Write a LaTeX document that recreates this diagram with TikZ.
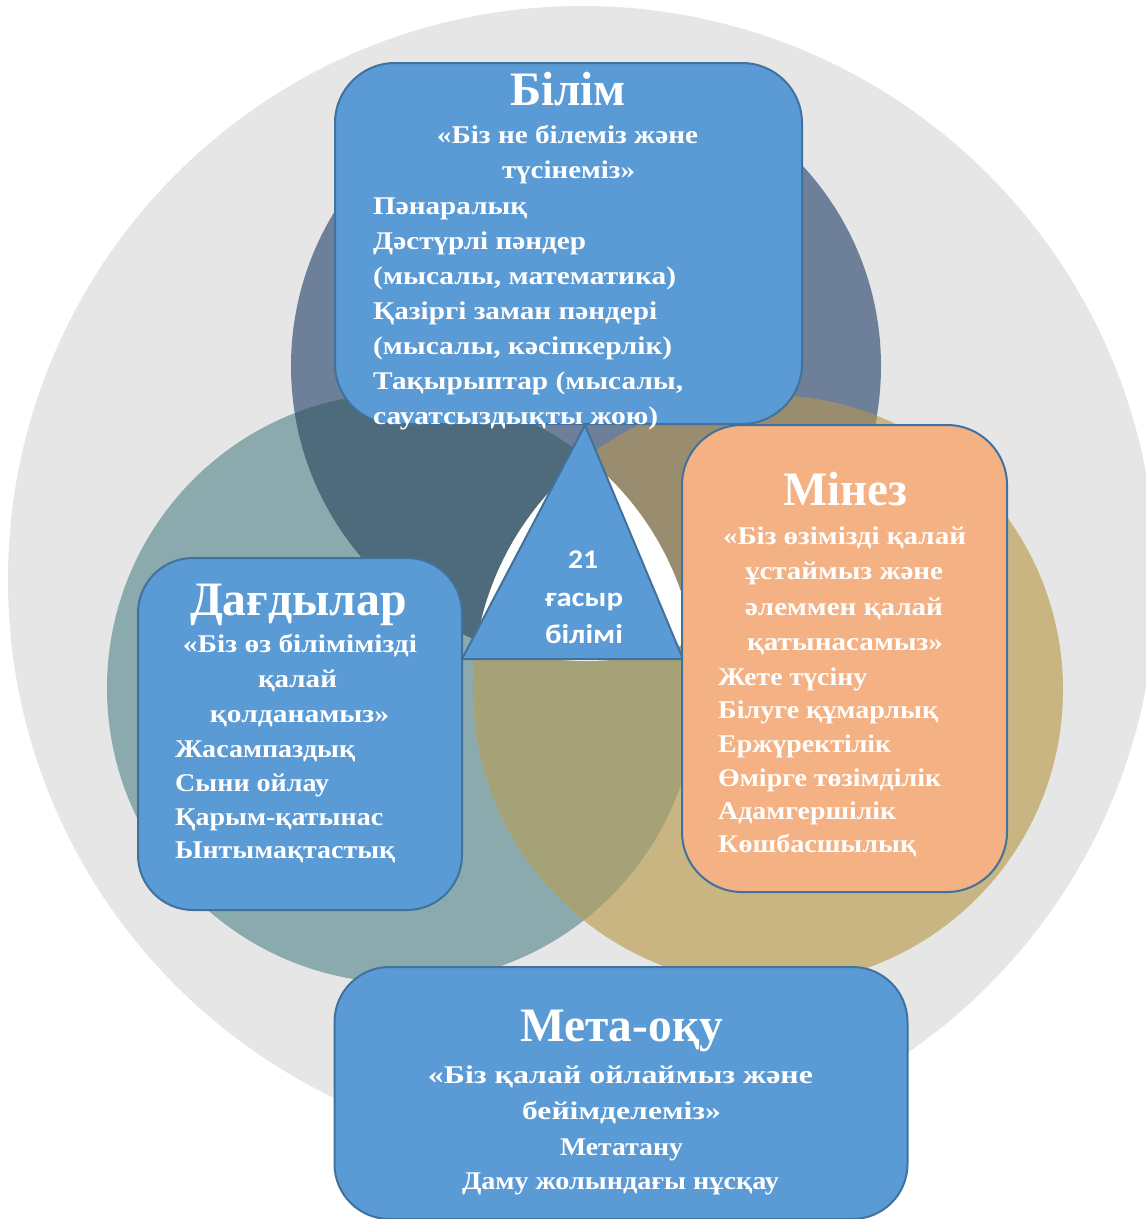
\documentclass[tikz,border=0pt]{standalone}
\usepackage{fontspec}
\setmainfont{Liberation Serif}
\newfontfamily\trisans{Carlito}
\definecolor{graybg}{HTML}{E6E6E6}
\definecolor{cdark}{HTML}{6E7F99}
\definecolor{cteal}{HTML}{8AAAAD}
\definecolor{cgold}{HTML}{C8B582}
\definecolor{cdt}{HTML}{4E6B7C}
\definecolor{cdg}{HTML}{9A8D6F}
\definecolor{ctg}{HTML}{A5A277}
\definecolor{boxblue}{HTML}{5B9BD5}
\definecolor{boxline}{HTML}{41719C}
\definecolor{salmon}{HTML}{F4B183}
\newcommand\fw[2]{\resizebox{#1pt}{\height}{#2}}
\begin{document}
\begin{tikzpicture}[x=1pt,y=-1pt,
  panel/.style={draw=boxline, line width=2pt, fill=boxblue, inner sep=0pt},
  ttl/.style={text=white, font=\bfseries\fontsize{48}{52}\selectfont, inner sep=0pt, anchor=base},
  ctr/.style={text=white, font=\bfseries\fontsize{25.5}{30}\selectfont, inner sep=0pt, anchor=base},
  lft/.style={text=white, font=\bfseries\fontsize{25.5}{30}\selectfont, inner sep=0pt, anchor=base west},
  tri/.style={text=white, font=\trisans\bfseries\fontsize{27}{30}\selectfont, inner sep=0pt, anchor=base}]
\useasboundingbox (0,0) rectangle (1146,1219);
\fill[white] (0,0) rectangle (1146,1219);
% big grey disc
\fill[graybg] (582,580) circle[radius=574];
% three circles
\fill[cteal] (402,688) circle[radius=295];
\fill[cgold] (768,690) circle[radius=295];
\fill[cdark] (586,366) circle[radius=295];
\begin{scope}
  \clip (586,366) circle[radius=295];
  \fill[cdt] (402,688) circle[radius=295];
  \fill[cdg] (768,690) circle[radius=295];
\end{scope}
\begin{scope}
  \clip (402,688) circle[radius=295];
  \fill[ctg] (768,690) circle[radius=295];
  \clip (768,690) circle[radius=295];
  \fill[white] (586,366) circle[radius=295];
\end{scope}
% Bilim box
\node[panel, minimum width=467pt, minimum height=361pt, rounded corners=60pt] (bilim) at (568.5,243.5) {};
\node[ttl] (b0) at (568,105) {\fw{116}{Білім}};
\node[ctr] (b1) at (567.5,143) {\fw{261}{«Біз не білеміз және}};
\node[ctr] (b2) at (568.5,178) {\fw{133}{түсінеміз»}};
\node[lft] (b3) at (373,214) {\fw{154}{Пәнаралық}};
\node[lft] (b4) at (373,249) {\fw{213}{Дәстүрлі пәндер}};
\node[lft] (b5) at (373,284) {\fw{303}{(мысалы, математика)}};
\node[lft] (b6) at (373,319) {\fw{284}{Қазіргі заман пәндері}};
\node[lft] (b7) at (373,354) {\fw{299}{(мысалы, кәсіпкерлік)}};
\node[lft] (b8) at (373,389) {\fw{310}{Тақырыптар (мысалы,}};
\node[lft] (b9) at (373,424) {\fw{285}{сауатсыздықты жою)}};
% triangle
\coordinate (ta) at (585,425);
\coordinate (tl) at (462,659);
\coordinate (tr) at (683,659);
\draw[boxline, line width=2pt, fill=boxblue, line join=miter] (ta) -- (tl) -- (tr) -- cycle;
\node[tri] (t1) at (583,568) {\fw{30}{21}};
\node[tri] (t2) at (584,606) {\fw{78}{ғасыр}};
\node[tri] (t3) at (584,643) {\fw{78}{білімі}};
% Dagdylar box
\node[panel, minimum width=324pt, minimum height=352pt, rounded corners=55pt] (dag) at (300,734) {};
\node[ttl] (d0) at (298.5,615) {\fw{217}{Дағдылар}};
\node[ctr] (d1) at (300,652) {\fw{234}{«Біз өз білімімізді}};
\node[ctr] (d2) at (297.5,687) {\fw{79}{қалай}};
\node[ctr] (d3) at (299.5,722) {\fw{179}{қолданамыз»}};
\node[lft] (d4) at (175,757) {\fw{180}{Жасампаздық}};
\node[lft] (d5) at (175,791) {\fw{154}{Сыни ойлау}};
\node[lft] (d6) at (175,825) {\fw{208}{Қарым-қатынас}};
\node[lft] (d7) at (175,858) {\fw{220}{Ынтымақтастық}};
% Minez box
\node[panel, fill=salmon, minimum width=325pt, minimum height=467pt, rounded corners=60pt] (min) at (844.5,658.5) {};
\node[ttl] (m0) at (845,505) {\fw{124}{Мінез}};
\node[ctr] (m1) at (844.5,544) {\fw{243}{«Біз өзімізді қалай}};
\node[ctr] (m2) at (844,579) {\fw{198}{ұстаймыз және}};
\node[ctr] (m3) at (844,615) {\fw{198}{әлеммен қалай}};
\node[ctr] (m4) at (845,650) {\fw{196}{қатынасамыз»}};
\node[lft] (m5) at (718,685) {\fw{149}{Жете түсіну}};
\node[lft] (m6) at (718,718) {\fw{220}{Білуге құмарлық}};
\node[lft] (m7) at (718,752) {\fw{173}{Ержүректілік}};
\node[lft] (m8) at (718,786) {\fw{223}{Өмірге төзімділік}};
\node[lft] (m9) at (718,819) {\fw{178}{Адамгершілік}};
\node[lft] (m10) at (718,852) {\fw{198}{Көшбасшылық}};
% Meta box
\node[panel, minimum width=573pt, minimum height=252pt, rounded corners=55pt] (meta) at (621,1093) {};
\node[ttl] (e0) at (621.5,1041) {\fw{203}{Мета-оқу}};
\node[ctr] (e1) at (620.5,1083) {\fw{385}{«Біз қалай ойлаймыз және}};
\node[ctr] (e2) at (621.5,1119) {\fw{199}{бейімделеміз»}};
\node[ctr] (e3) at (621.5,1155) {\fw{123}{Метатану}};
\node[ctr] (e4) at (620.5,1189) {\fw{317}{Даму жолындағы нұсқау}};
\end{tikzpicture}
\end{document}
